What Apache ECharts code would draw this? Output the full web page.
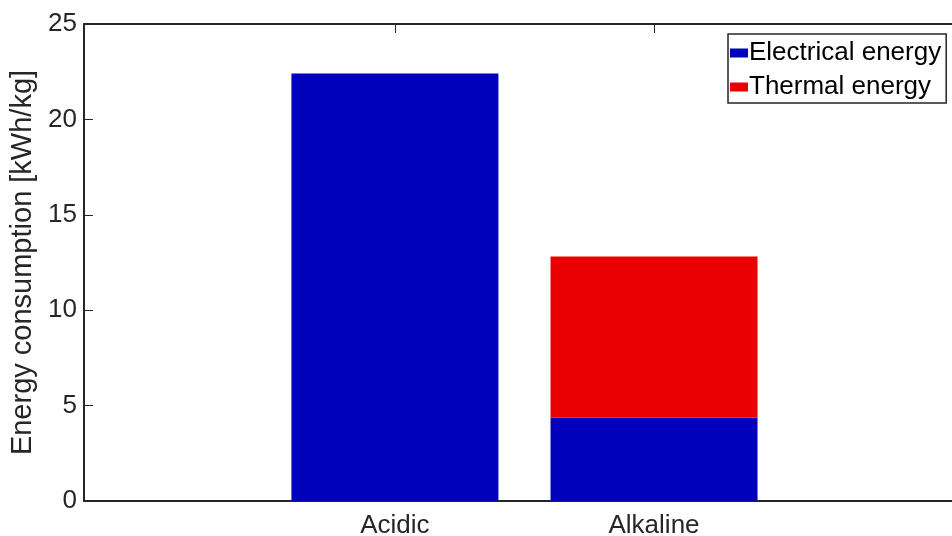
<!DOCTYPE html>
<html>
<head>
<meta charset="utf-8">
<script src="https://cdn.jsdelivr.net/npm/echarts@6/dist/echarts.min.js"></script>
<style>
  html, body { margin: 0; padding: 0; background: #fff; }
  #chart { width: 952px; height: 536px; }
</style>
</head>
<body>
<div id="chart"></div>
<script>
var categories = ['Acidic', 'Alkaline'];
var positions = [1, 2];
var electrical = [22.4, 4.37];
var thermal = [0, 8.45];
var seriesNames = ['Electrical energy', 'Thermal energy'];

var myChart = echarts.init(document.getElementById('chart'));
var font = '"Liberation Sans", Arial, Helvetica, sans-serif';
var axisColor = '#262626';

// value first so the stack runs on the y dimension, by index
function pairs(vals) {
    return vals.map(function (v, i) { return [v, positions[i]]; });
}

var xCommon = {
    type: 'value',
    min: -0.2,
    max: 3.15,
    splitLine: { show: false },
    axisLine: { show: true, onZero: false, lineStyle: { color: axisColor, width: 2 } },
    axisTick: { show: true, inside: true, length: 9, customValues: positions, lineStyle: { color: axisColor } }
};

var option = {
    backgroundColor: '#fff',
    animation: false,
    grid: { left: 84, top: 24, right: 0, bottom: 35, containLabel: false, outerBoundsMode: 'none' },
    legend: {
        orient: 'vertical',
        left: 728,
        top: 34,
        data: seriesNames,
        itemWidth: 18,
        itemHeight: 9,
        itemGap: 8,
        padding: [6, 5, 3, 2],
        borderColor: axisColor,
        borderWidth: 1.5,
        backgroundColor: '#fff',
        textStyle: { fontFamily: font, fontSize: 26, color: '#000', padding: [0, 0, 0, -4] },
        icon: 'rect'
    },
    xAxis: [echarts.util.merge({
        position: 'bottom',
        axisLabel: {
            customValues: positions,
            margin: 12,
            fontFamily: font, fontSize: 26, color: axisColor,
            formatter: function (v) { return categories[positions.indexOf(v)] || ''; }
        }
    }, xCommon, true), echarts.util.merge({
        position: 'top',
        axisLabel: { show: false }
    }, xCommon, true)],
    yAxis: {
        type: 'value',
        min: 0,
        max: 25,
        interval: 5,
        name: 'Energy consumption [kWh/kg]',
        nameLocation: 'middle',
        nameGap: 44,
        nameTextStyle: { fontFamily: font, fontSize: 29, color: axisColor },
        splitLine: { show: false },
        axisLine: { show: true, onZero: false, lineStyle: { color: axisColor, width: 2 } },
        axisTick: { show: true, inside: true, length: 9, lineStyle: { color: axisColor } },
        axisLabel: { margin: 7, fontFamily: font, fontSize: 26, color: axisColor }
    },
    series: [{
        name: seriesNames[0],
        type: 'bar',
        stack: 'energy',
        barWidth: 207,
        encode: { x: 1, y: 0 },
        data: pairs(electrical),
        itemStyle: { color: '#0202BD' }
    }, {
        name: seriesNames[1],
        type: 'bar',
        stack: 'energy',
        barWidth: 207,
        encode: { x: 1, y: 0 },
        data: pairs(thermal),
        itemStyle: { color: '#EA0000' }
    }]
};

myChart.setOption(option);
</script>
</body>
</html>
